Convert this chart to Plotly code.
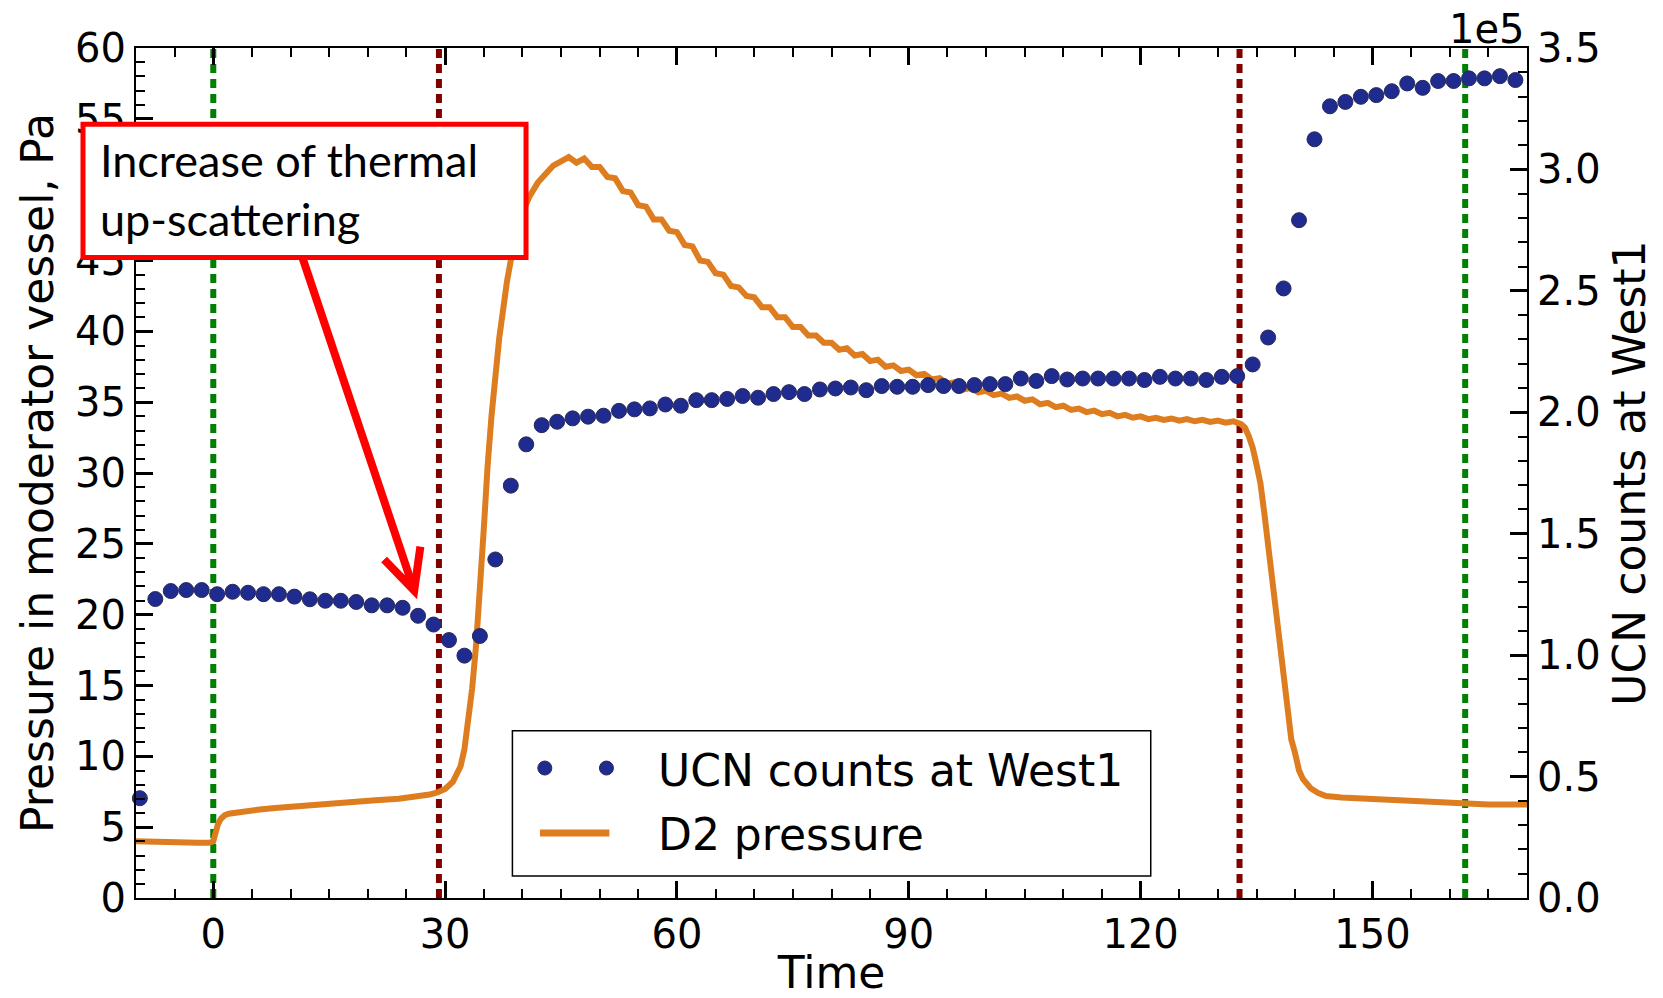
import plotly.graph_objects as go

# ---------------- data ----------------
# UCN counts at West1 (in units of 1e5), one point every 2 s
ucn_time = [-9.5, -7.5, -5.5, -3.5, -1.5, 0.5, 2.5, 4.5, 6.5, 8.5,
            10.5, 12.5, 14.5, 16.5, 18.5, 20.5, 22.5, 24.5, 26.5, 28.5,
            30.5, 32.5, 34.5, 36.5, 38.5, 40.5, 42.5, 44.5, 46.5, 48.5,
            50.5, 52.5, 54.5, 56.5, 58.5, 60.5, 62.5, 64.5, 66.5, 68.5,
            70.5, 72.5, 74.5, 76.5, 78.5, 80.5, 82.5, 84.5, 86.5, 88.5,
            90.5, 92.5, 94.5, 96.5, 98.5, 100.5, 102.5, 104.5, 106.5, 108.5,
            110.5, 112.5, 114.5, 116.5, 118.5, 120.5, 122.5, 124.5, 126.5, 128.5,
            130.5, 132.5, 134.5, 136.5, 138.5, 140.5, 142.5, 144.5, 146.5, 148.5,
            150.5, 152.5, 154.5, 156.5, 158.5, 160.5, 162.5, 164.5, 166.5, 168.5]
ucn_counts_1e5 = [0.411, 1.231, 1.264, 1.268, 1.268, 1.251, 1.261, 1.257, 1.251, 1.251,
                  1.241, 1.230, 1.224, 1.224, 1.219, 1.205, 1.205, 1.195, 1.162, 1.126,
                  1.062, 0.998, 1.079, 1.394, 1.698, 1.868, 1.947, 1.961, 1.975, 1.982,
                  1.986, 2.006, 2.012, 2.016, 2.032, 2.027, 2.050, 2.050, 2.055, 2.067,
                  2.060, 2.075, 2.083, 2.075, 2.094, 2.098, 2.102, 2.091, 2.108, 2.105,
                  2.105, 2.112, 2.108, 2.108, 2.112, 2.116, 2.116, 2.139, 2.129, 2.149,
                  2.135, 2.139, 2.139, 2.139, 2.139, 2.133, 2.146, 2.139, 2.139, 2.133,
                  2.146, 2.149, 2.197, 2.308, 2.510, 2.791, 3.124, 3.260, 3.278, 3.299,
                  3.306, 3.322, 3.354, 3.336, 3.364, 3.364, 3.375, 3.375, 3.384, 3.368]

# D2 pressure in moderator vessel (Pa)
pressure_time = [-10, -8, -6, -4, -2, -0.5, 0, 0.3, 0.6, 1, 1.5, 2, 3, 4, 6, 8, 10, 12, 15, 18,
                 21, 24, 26, 28, 29, 30, 31, 32, 32.5, 33, 33.5, 34, 34.5, 35, 35.5, 36,
                 37, 38, 39, 40, 41, 42, 43, 44, 45, 46, 47, 48, 49, 50,
                 51, 52, 53, 54, 55, 56, 57, 58, 59, 60, 61, 62, 63, 64, 65, 66, 67, 68, 69, 70,
                 71, 72, 73, 74, 75, 76, 77, 78, 79, 80, 81, 82, 83, 84, 85, 86, 87, 88, 89, 90,
                 91, 92, 93, 94, 95, 96, 97, 98, 99, 100, 101, 102, 103, 104, 105, 106, 107, 108,
                 109, 110, 111, 112, 113, 114, 115, 116, 117, 118, 119, 120, 121, 122, 123, 124,
                 125, 126, 127, 128, 129, 130, 131, 132, 133, 133.5, 134, 134.5, 135, 135.5,
                 136, 136.5, 137, 137.5, 138, 138.5, 139, 139.5, 140, 140.5, 141, 142, 143, 144,
                 146, 148, 150, 153, 156, 159, 162, 165, 168, 170]
pressure_pa = [4.0, 3.95, 3.95, 3.9, 3.9, 3.9, 4.0, 4.6, 5.2, 5.6, 5.85, 5.95, 6.05, 6.15, 6.25,
               6.35, 6.45, 6.55, 6.7, 6.8,
               6.9, 7.0, 7.1, 7.3, 7.45, 7.7, 8.2, 9.3, 10.5, 12.3, 14.8, 17.8, 21.5, 26.0, 30.5, 34.0,
               39.5, 43.5, 46.5, 48.4, 49.6, 50.5, 51.1, 51.7, 52.0, 52.3, 51.9, 52.2, 51.6, 51.6,
               50.9, 50.8, 49.9, 49.8, 48.9, 48.8, 47.9, 47.9, 47.1, 47.0, 46.1, 46.0, 45.0, 44.9,
               44.1, 44.0, 43.2, 43.1, 42.5, 42.4,
               41.7, 41.7, 41.0, 41.0, 40.3, 40.3, 39.7, 39.7, 39.2, 39.2, 38.7, 38.8, 38.3, 38.4,
               37.9, 38.0, 37.5, 37.6, 37.2, 37.3,
               36.9, 37.0, 36.6, 36.7, 36.3, 36.4, 35.9, 36.0, 35.7, 35.8, 35.5, 35.6, 35.3, 35.4,
               35.1, 35.2, 34.85, 34.95,
               34.65, 34.75, 34.45, 34.55, 34.3, 34.4, 34.15, 34.25, 34.0, 34.1, 33.9, 34.0, 33.8,
               33.9, 33.75, 33.85,
               33.7, 33.8, 33.65, 33.75, 33.6, 33.7, 33.55, 33.65, 33.45, 33.2, 32.6, 31.8, 30.6, 29.3,
               27.2, 24.8, 22.5, 20.0, 17.5, 15.2, 13.0, 11.2, 10.2, 9.0, 8.4, 7.75, 7.4, 7.2,
               7.1, 7.05, 7.0, 6.9, 6.8, 6.7, 6.6, 6.6, 6.6, 6.6]

green_lines = [0, 162.0]      # start / end markers
darkred_lines = [29.2, 132.8]  # D2 valve markers

x_ticks = [0, 30, 60, 90, 120, 150]
# left-axis tick labels; the "50" label is entirely hidden behind the callout box
y_ticks = [0, 5, 10, 15, 20, 25, 30, 35, 40, 45, 50, 55, 60]
y_ticklabels = ["0", "5", "10", "15", "20", "25", "30", "35", "40", "45", "", "55", "60"]

series_names = ["UCN counts at West1", "D2 pressure"]
callout_text = "Increase of thermal<br>up-scattering"

# arrow of the annotation (data coordinates)
arrow_tail = (10.8, 46.4)
arrow_tip = (26.0, 21.7)
arrow_left_arm = (22.1, 23.9)
arrow_right_arm = (26.8, 24.8)

# ---------------- figure ----------------
ORANGE = "#dd7d1f"
NAVY = "#1f2b8f"
FONT = "DejaVu Sans"

fig = go.Figure()

fig.add_trace(go.Scatter(
    x=ucn_time, y=ucn_counts_1e5, mode="markers", yaxis="y2",
    name=series_names[0], showlegend=False,
    marker=dict(color=NAVY, size=15, line=dict(color="#2a2a55", width=1)),
    cliponaxis=False,
))
fig.add_trace(go.Scatter(
    x=pressure_time, y=pressure_pa, mode="lines", yaxis="y",
    name=series_names[1], showlegend=False,
    line=dict(color=ORANGE, width=6),
))

shapes = []
for xv in green_lines:
    shapes.append(dict(type="line", xref="x", yref="paper", x0=xv, x1=xv, y0=0, y1=1,
                       line=dict(color="#008000", width=6, dash="9px,6px"), layer="below"))
for xv in darkred_lines:
    shapes.append(dict(type="line", xref="x", yref="paper", x0=xv, x1=xv, y0=0, y1=1,
                       line=dict(color="#800000", width=6, dash="9px,6px"), layer="below"))

# red arrow
shapes.append(dict(type="line", xref="x", yref="y",
                   x0=arrow_tail[0], y0=arrow_tail[1], x1=arrow_tip[0], y1=arrow_tip[1],
                   line=dict(color="#ff0000", width=8), layer="above"))
shapes.append(dict(type="path", xref="x", yref="y",
                   path=f"M {arrow_left_arm[0]},{arrow_left_arm[1]} L {arrow_tip[0]},{arrow_tip[1]} "
                        f"L {arrow_right_arm[0]},{arrow_right_arm[1]}",
                   line=dict(color="#ff0000", width=8), layer="above"))

# callout box (drawn over the arrow tail and the left axis)
shapes.append(dict(type="rect", xref="paper", yref="paper",
                   x0=-0.0381, x1=0.2804, y0=0.7535, y1=0.9104,
                   fillcolor="white", line=dict(color="#ff0000", width=5), layer="above"))

# ---- legend (matplotlib style: two markers per point entry, long line sample) ----
LEG_X0, LEG_X1, LEG_Y0, LEG_Y1 = 0.2706, 0.7295, 0.0259, 0.1968
ROW1_Y, ROW2_Y = 0.1529, 0.0765
shapes.append(dict(type="rect", xref="paper", yref="paper", x0=LEG_X0, x1=LEG_X1,
                   y0=LEG_Y0, y1=LEG_Y1, fillcolor="white",
                   line=dict(color="black", width=1.5), layer="above"))
for mx in (0.2939, 0.3382):
    shapes.append(dict(type="circle", xref="paper", yref="paper",
                       xsizemode="pixel", ysizemode="pixel", xanchor=mx, yanchor=ROW1_Y,
                       x0=-7, x1=7, y0=-7, y1=7, fillcolor=NAVY,
                       line=dict(color="#2a2a55", width=1), layer="above"))
shapes.append(dict(type="line", xref="paper", yref="paper", x0=0.2904, x1=0.3403,
                   y0=ROW2_Y, y1=ROW2_Y, line=dict(color=ORANGE, width=7), layer="above"))

tickfont = dict(family=FONT, size=40, color="black")
titlefont = dict(family=FONT, size=44, color="black")
legfont = dict(family=FONT, size=44, color="black")

fig.update_layout(
    width=1663, height=998,
    margin=dict(l=136, r=136, t=48, b=100, autoexpand=False),
    paper_bgcolor="white", plot_bgcolor="white",
    font=dict(family=FONT, color="black"),
    showlegend=False,
    shapes=shapes,
    xaxis=dict(
        range=[-10, 170], tickvals=x_ticks, ticks="inside", ticklen=17, tickwidth=3,
        tickcolor="black", showline=True, linecolor="black", linewidth=2, mirror="ticks",
        showgrid=False, zeroline=False, tickfont=tickfont,
        minor=dict(dtick=5, tick0=0, ticks="inside", ticklen=9, tickwidth=2, tickcolor="black"),
        title=dict(text="Time", font=titlefont, standoff=11),
    ),
    yaxis=dict(
        range=[0, 60], tickvals=y_ticks, ticktext=y_ticklabels, ticks="inside", ticklen=17,
        tickwidth=3, tickcolor="black", showline=True, linecolor="black", linewidth=2,
        showgrid=False, zeroline=False, tickfont=tickfont,
        minor=dict(dtick=1, tick0=0, ticks="inside", ticklen=9, tickwidth=2, tickcolor="black"),
        title=dict(text="Pressure in moderator vessel, Pa", font=titlefont, standoff=8),
    ),
    yaxis2=dict(
        range=[0, 3.5], dtick=0.5, tick0=0, tickformat=".1f", overlaying="y", side="right",
        ticks="inside", ticklen=17, tickwidth=3, tickcolor="black",
        showline=True, linecolor="black", linewidth=2,
        showgrid=False, zeroline=False, tickfont=tickfont,
        minor=dict(dtick=0.1, tick0=0, ticks="inside", ticklen=9, tickwidth=2, tickcolor="black"),
        title=dict(text="UCN counts at West1", font=titlefont, standoff=15),
    ),
    annotations=[
        dict(text="1e5", xref="paper", yref="paper", x=1.0, y=1.0, xanchor="right",
             yanchor="bottom", showarrow=False, font=dict(family=FONT, size=40, color="black"),
             yshift=-6),
        dict(text=callout_text, xref="paper", yref="paper",
             x=-0.0271, y=0.833, xanchor="left", yanchor="middle", showarrow=False,
             align="left", font=dict(family="Lato", size=45, color="black")),
        dict(text=series_names[0], xref="paper", yref="paper", x=0.3737, y=ROW1_Y,
             xanchor="left", yanchor="middle", showarrow=False, font=legfont, yshift=-2),
        dict(text=series_names[1], xref="paper", yref="paper", x=0.3737, y=ROW2_Y,
             xanchor="left", yanchor="middle", showarrow=False, font=legfont, yshift=-2),
    ],
)

fig.write_html("out.html")
